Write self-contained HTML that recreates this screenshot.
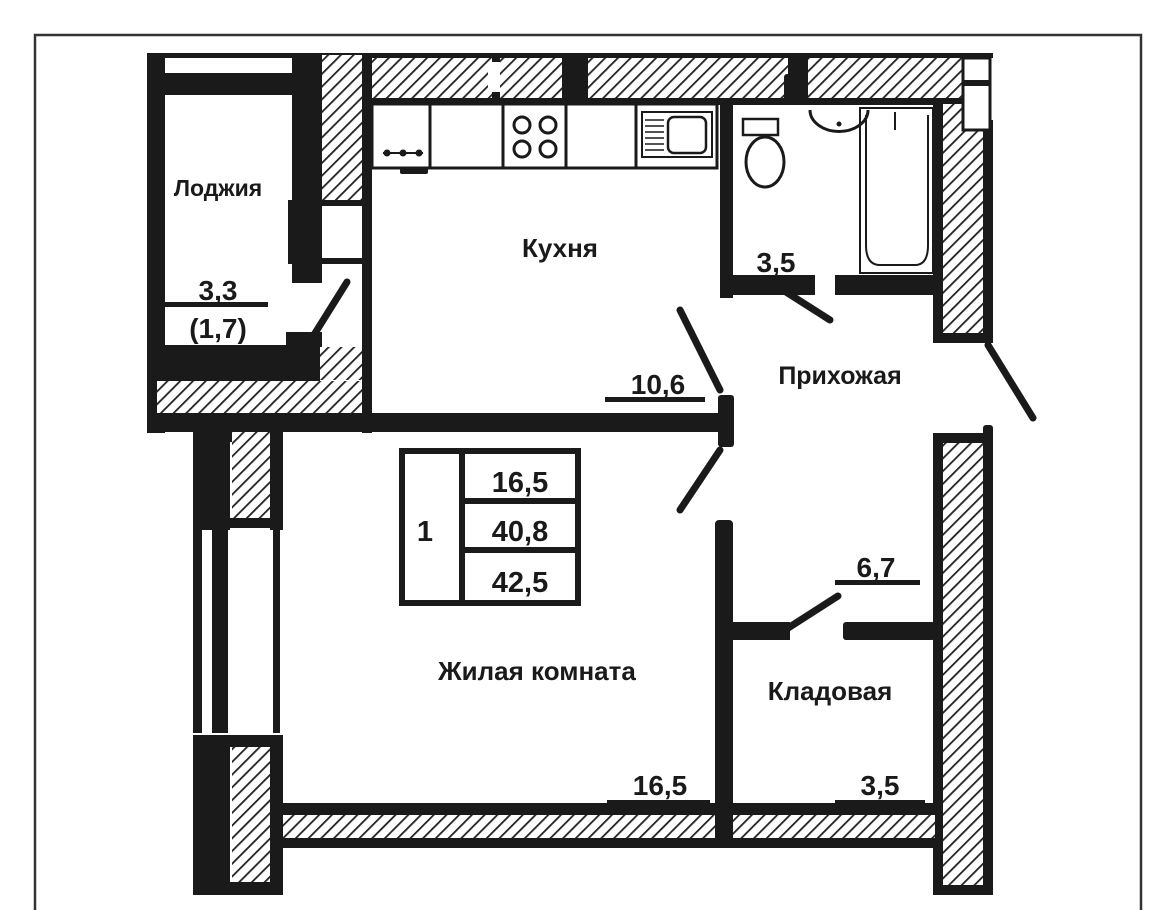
<!DOCTYPE html>
<html><head><meta charset="utf-8"><style>
html,body{margin:0;padding:0;background:#fff;width:1167px;height:910px;overflow:hidden}
text{font-family:"Liberation Sans",sans-serif;font-weight:bold;fill:#1a1a1a}
</style></head><body>
<svg width="1167" height="910" viewBox="0 0 1167 910" xmlns="http://www.w3.org/2000/svg">
<defs>
<pattern id="h" patternUnits="userSpaceOnUse" width="9" height="9" patternTransform="rotate(45)">
<rect width="9" height="9" fill="#fff"/><rect x="0" y="0" width="1.8" height="9" fill="#222"/>
</pattern>
</defs>
<path d="M35 910 V35 H1141 V910" fill="none" stroke="#333" stroke-width="2.5"/>
<g fill="#1a1a1a">
<rect x="365" y="53" width="600" height="52" fill="#1a1a1a"/>
<rect x="372" y="58" width="120" height="40" fill="url(#h)"/>
<rect x="500" y="58" width="62" height="40" fill="url(#h)"/>
<rect x="588" y="58" width="200" height="40" fill="url(#h)"/>
<rect x="808" y="58" width="155" height="40" fill="url(#h)"/>
<rect x="488" y="62" width="12" height="30" fill="#fff"/>
<rect x="147" y="53" width="220" height="5"/>
<rect x="147" y="53" width="18" height="380"/>
<rect x="157" y="73" width="135" height="22"/>
<rect x="292" y="53" width="30" height="230"/>
<rect x="322" y="55" width="45" height="148" fill="url(#h)"/>
<rect x="322" y="200" width="45" height="6"/>
<rect x="322" y="258" width="45" height="6"/>
<rect x="362" y="53" width="10" height="380"/>
<rect x="288" y="200" width="6" height="64"/>
<rect x="155" y="345" width="165" height="36"/>
<rect x="286" y="332" width="36" height="20"/>
<rect x="320" y="347" width="42" height="33" fill="url(#h)"/>
<rect x="157" y="381" width="205" height="33" fill="url(#h)"/>
<rect x="147" y="413" width="580" height="19"/>
<line x1="347" y1="282" x2="312" y2="338" stroke="#1a1a1a" stroke-width="7" stroke-linecap="round"/>
<rect x="372" y="104" width="345" height="64" fill="none" stroke="#1a1a1a" stroke-width="3"/>
<line x1="430" y1="104" x2="430" y2="168" stroke="#1a1a1a" stroke-width="3"/>
<line x1="503" y1="104" x2="503" y2="168" stroke="#1a1a1a" stroke-width="3"/>
<line x1="566" y1="104" x2="566" y2="168" stroke="#1a1a1a" stroke-width="3"/>
<line x1="636" y1="104" x2="636" y2="168" stroke="#1a1a1a" stroke-width="3"/>
<circle cx="387" cy="153" r="3.5"/><circle cx="403" cy="153" r="3.5"/><circle cx="419" cy="153" r="3.5"/>
<line x1="383" y1="153" x2="423" y2="153" stroke="#1a1a1a" stroke-width="2"/>
<rect x="400" y="168" width="28" height="6" rx="2"/>
<circle cx="522" cy="125" r="8" fill="none" stroke="#1a1a1a" stroke-width="3"/>
<circle cx="548" cy="125" r="8" fill="none" stroke="#1a1a1a" stroke-width="3"/>
<circle cx="522" cy="149" r="8" fill="none" stroke="#1a1a1a" stroke-width="3"/>
<circle cx="548" cy="149" r="8" fill="none" stroke="#1a1a1a" stroke-width="3"/>
<rect x="642" y="112" width="70" height="45" fill="none" stroke="#1a1a1a" stroke-width="2"/>
<rect x="668" y="117" width="38" height="36" rx="6" fill="none" stroke="#1a1a1a" stroke-width="2.5"/>
<g stroke="#1a1a1a" stroke-width="1.5"><line x1="645" y1="120" x2="664" y2="120"/><line x1="645" y1="126" x2="664" y2="126"/><line x1="645" y1="132" x2="664" y2="132"/><line x1="645" y1="138" x2="664" y2="138"/><line x1="645" y1="144" x2="664" y2="144"/><line x1="645" y1="150" x2="664" y2="150"/></g>
<rect x="568" y="62" width="18" height="42"/>
<rect x="720" y="100" width="13" height="198"/>
<rect x="720" y="275" width="95" height="20"/>
<rect x="835" y="275" width="102" height="20"/>
<rect x="730" y="98" width="210" height="6"/>
<rect x="784" y="74" width="22" height="30" rx="3"/>
<rect x="743" y="119" width="35" height="16" fill="none" stroke="#1a1a1a" stroke-width="2.5"/>
<ellipse cx="765" cy="162" rx="19" ry="25" fill="none" stroke="#1a1a1a" stroke-width="3"/>
<path d="M810 110 A27 20 0 0 0 868 110" fill="none" stroke="#1a1a1a" stroke-width="3"/>
<circle cx="839" cy="124" r="2.5"/>
<rect x="860" y="108" width="73" height="165" fill="none" stroke="#1a1a1a" stroke-width="2"/>
<path d="M866 115 V245 Q866 265 880 265 H915 Q928 265 928 245 V115" fill="none" stroke="#1a1a1a" stroke-width="2"/>
<line x1="895" y1="112" x2="895" y2="130" stroke="#1a1a1a" stroke-width="2"/>
<line x1="775" y1="285" x2="830" y2="320" stroke="#1a1a1a" stroke-width="7" stroke-linecap="round"/>
<rect x="933" y="98" width="10" height="245"/>
<rect x="943" y="104" width="40" height="230" fill="url(#h)"/>
<rect x="933" y="333" width="60" height="10"/>
<rect x="983" y="120" width="10" height="223"/>
<rect x="960" y="53" width="33" height="5"/>
<rect x="963" y="58" width="27" height="72" fill="#fff" stroke="#1a1a1a" stroke-width="3"/>
<rect x="963" y="80" width="27" height="6"/>
<line x1="988" y1="345" x2="1033" y2="418" stroke="#1a1a1a" stroke-width="7" stroke-linecap="round"/>
<rect x="718" y="395" width="16" height="52" rx="3"/>
<line x1="680" y1="310" x2="720" y2="390" stroke="#1a1a1a" stroke-width="7" stroke-linecap="round"/>
<line x1="720" y1="450" x2="680" y2="510" stroke="#1a1a1a" stroke-width="7" stroke-linecap="round"/>
<rect x="933" y="433" width="60" height="462"/>
<rect x="943" y="443" width="40" height="442" fill="url(#h)"/>
<rect x="983" y="425" width="10" height="20" rx="3"/>
<rect x="280" y="803" width="660" height="45"/>
<rect x="283" y="815" width="652" height="23" fill="url(#h)"/>
<rect x="933" y="838" width="10" height="57"/>
<rect x="933" y="885" width="60" height="10"/>
<rect x="715" y="520" width="18" height="325" rx="4"/>
<rect x="733" y="622" width="57" height="18"/>
<rect x="843" y="622" width="92" height="18" rx="3"/>
<line x1="785" y1="630" x2="838" y2="596" stroke="#1a1a1a" stroke-width="7" stroke-linecap="round"/>
<rect x="193" y="430" width="90" height="12"/>
<rect x="193" y="430" width="37" height="100"/>
<rect x="232" y="432" width="40" height="88" fill="url(#h)"/>
<rect x="270" y="430" width="13" height="100"/>
<rect x="193" y="518" width="90" height="10"/>
<rect x="193" y="528" width="9" height="205"/>
<rect x="212" y="528" width="16" height="205"/>
<rect x="273" y="528" width="7" height="205"/>
<rect x="193" y="735" width="90" height="12"/>
<rect x="193" y="735" width="37" height="160"/>
<rect x="232" y="747" width="40" height="135" fill="url(#h)"/>
<rect x="270" y="735" width="13" height="160"/>
<rect x="193" y="882" width="90" height="13"/>
<rect x="402" y="451" width="176" height="152" fill="none" stroke="#1a1a1a" stroke-width="6"/>
<rect x="459" y="451" width="6" height="152"/>
<rect x="462" y="498" width="116" height="6"/>
<rect x="462" y="547" width="116" height="6"/>
<rect x="165" y="302" width="103" height="5"/>
<rect x="605" y="397" width="100" height="5"/>
<rect x="733" y="275" width="70" height="5"/>
<rect x="835" y="580" width="85" height="5"/>
<rect x="607" y="800" width="103" height="5"/>
<rect x="835" y="800" width="90" height="5"/>
</g>
<text x="218" y="196" font-size="23" text-anchor="middle">Лоджия</text>
<text x="218" y="300" font-size="28" text-anchor="middle">3,3</text>
<text x="218" y="338" font-size="28" text-anchor="middle">(1,7)</text>
<text x="560" y="257" font-size="26" text-anchor="middle">Кухня</text>
<text x="658" y="394" font-size="28" text-anchor="middle">10,6</text>
<text x="776" y="272" font-size="28" text-anchor="middle">3,5</text>
<text x="840" y="384" font-size="25" text-anchor="middle">Прихожая</text>
<text x="425" y="541" font-size="29" text-anchor="middle">1</text>
<text x="520" y="492" font-size="29" text-anchor="middle">16,5</text>
<text x="520" y="541" font-size="29" text-anchor="middle">40,8</text>
<text x="520" y="592" font-size="29" text-anchor="middle">42,5</text>
<text x="537" y="680" font-size="26" text-anchor="middle">Жилая  комната</text>
<text x="876" y="577" font-size="28" text-anchor="middle">6,7</text>
<text x="830" y="700" font-size="26" text-anchor="middle">Кладовая</text>
<text x="660" y="795" font-size="28" text-anchor="middle">16,5</text>
<text x="880" y="795" font-size="28" text-anchor="middle">3,5</text>
</svg>
</body></html>
